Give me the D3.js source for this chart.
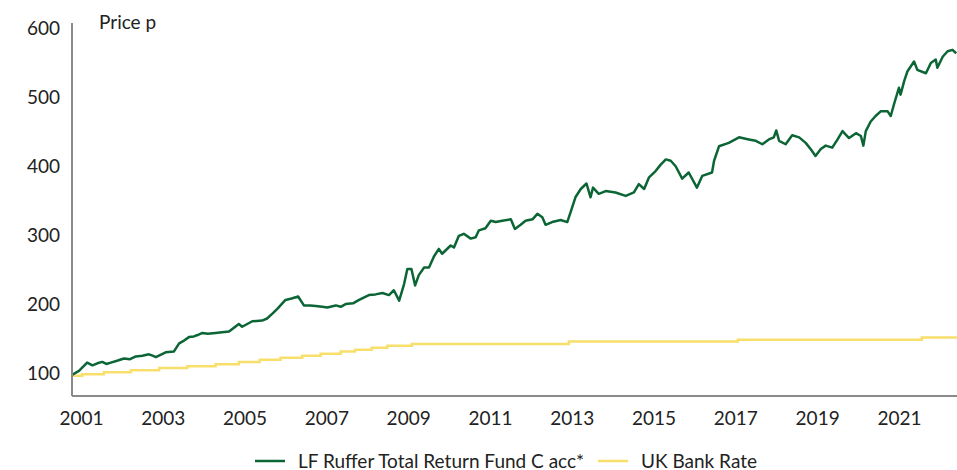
<!DOCTYPE html>
<html>
<head>
<meta charset="utf-8">
<script src="https://cdn.jsdelivr.net/npm/d3@7"></script>
<style>
  html, body { margin: 0; padding: 0; background: #fff; }
  svg { display: block; }
  text { font-family: Lato, "Noto Sans", sans-serif; fill: #222; }
</style>
</head>
<body>
<div id="chart"></div>
<script>
// LF Ruffer Total Return Fund C acc (decimal year, price p)
const fundYears = [2000.78,2000.95,2001.15,2001.28,2001.40,2001.52,2001.62,2001.73,2001.90,2002.05,2002.20,2002.34,2002.50,2002.66,2002.75,2002.83,2003.07,2003.27,2003.40,2003.52,2003.64,2003.76,2003.85,2003.97,2004.10,2004.29,2004.45,2004.62,2004.86,2004.94,2005.19,2005.43,2005.55,2005.68,2005.80,2006.00,2006.15,2006.31,2006.45,2006.60,2006.74,2006.90,2007.02,2007.23,2007.35,2007.47,2007.65,2007.80,2008.04,2008.20,2008.37,2008.53,2008.65,2008.78,2008.90,2008.98,2009.08,2009.17,2009.26,2009.39,2009.51,2009.63,2009.75,2009.83,2010.04,2010.12,2010.24,2010.36,2010.53,2010.65,2010.73,2010.89,2011.02,2011.14,2011.30,2011.51,2011.61,2011.75,2011.87,2012.04,2012.16,2012.28,2012.36,2012.52,2012.73,2012.89,2012.97,2013.09,2013.22,2013.36,2013.46,2013.52,2013.66,2013.83,2014.07,2014.32,2014.52,2014.64,2014.77,2014.89,2015.05,2015.17,2015.30,2015.42,2015.54,2015.70,2015.86,2016.06,2016.19,2016.43,2016.48,2016.60,2016.84,2017.09,2017.33,2017.50,2017.66,2017.82,2017.94,2018.00,2018.07,2018.23,2018.39,2018.56,2018.72,2018.84,2018.96,2019.09,2019.21,2019.37,2019.50,2019.62,2019.78,2019.95,2020.07,2020.13,2020.19,2020.31,2020.43,2020.56,2020.72,2020.80,2020.88,2021.00,2021.04,2021.13,2021.21,2021.37,2021.45,2021.66,2021.78,2021.90,2021.94,2022.07,2022.19,2022.31,2022.40];
const fundValues = [100,106,118,114,117,119,116,118,121,124,123,127,128,130,128,126,133,134,146,150,155,156,158,161,160,161,162,163,174,170,178,179,182,189,196,209,211,214,201,201,200,199,198,201,199,203,204,209,216,217,219,216,223,208,232,254,254,230,245,256,256,272,283,276,288,285,302,305,298,300,310,313,324,322,324,326,312,318,324,326,334,329,318,322,325,322,336,358,370,378,358,372,363,367,365,360,365,377,370,387,396,405,413,411,403,385,394,372,389,394,411,432,437,445,442,440,435,442,445,455,440,435,448,445,437,428,418,428,433,430,442,454,444,451,447,433,454,468,476,483,483,476,493,517,507,527,541,555,543,538,553,558,546,562,570,572,567];

// UK Bank Rate index (step changes)
const rateYears = [2000.75,2001.03,2001.56,2002.22,2002.91,2003.60,2004.29,2004.86,2005.37,2005.88,2006.41,2006.86,2007.35,2007.70,2008.11,2008.49,2009.09,2012.93,2017.06,2021.56,2022.42];
const rateValues = [99,101,104,107,110,112.6,115.5,119,122,125,128,131,134,136.6,139.5,142.3,145,148.6,151.2,154.3,154.3];

const yTicks = [100,200,300,400,500,600];
const xTickYears = [2001,2003,2005,2007,2009,2011,2013,2015,2017,2019,2021];
const seriesNames = ["LF Ruffer Total Return Fund C acc*","UK Bank Rate"];
const seriesColors = ["#0b6535","#f8df6c"];

const width = 957;
const height = 470;
const margin = {top : 23 , right : 0 , bottom : 74 , left : 72};
const innerWidth = width - margin.left - margin.right;
const innerHeight = height - margin.top - margin.bottom;

const xScale = d3.scaleLinear()
                    .domain([2000.78 , 2022.42])
                    .range([0 , innerWidth]);
const yScale = d3.scaleLinear()
                    .domain([69.5 , 611])
                    .range([innerHeight , 0]);

const svg = d3.select("#chart")
                .append("svg")
                    .attr("width" , width)
                    .attr("height" , height)
                    .attr("overflow" , "visible");

const group = svg.append("g")
                    .attr("transform" , `translate(${margin.left} , ${margin.top})`);

group.append("clipPath")
        .attr("id" , "clip")
    .append("rect")
        .attr("width" , innerWidth)
        .attr("height" , innerHeight);

const fund = fundYears.map((d , i) => ({x : d , y : fundValues[i]}));
const rate = rateYears.map((d , i) => ({x : d , y : rateValues[i]}));

const line = d3.line().x(d => xScale(d.x)).y(d => yScale(d.y));
const stepLine = d3.line().curve(d3.curveStepAfter).x(d => xScale(d.x)).y(d => yScale(d.y));

group.append("path")
        .datum(rate)
        .attr("clip-path" , "url(#clip)")
        .attr("fill" , "none")
        .attr("stroke" , seriesColors[1])
        .attr("stroke-width" , 2.5)
        .attr("d" , stepLine);

group.append("path")
        .datum(fund)
        .attr("clip-path" , "url(#clip)")
        .attr("fill" , "none")
        .attr("stroke" , seriesColors[0])
        .attr("stroke-width" , 2.5)
        .attr("stroke-linejoin" , "round")
        .attr("d" , line);

// axes: plain grey lines, no tick marks
const xAxis = group.append("g")
                .attr("transform" , `translate(0 , ${innerHeight})`)
                .call(d3.axisBottom(xScale).tickValues(xTickYears).tickFormat(d3.format("d")).tickSize(0).tickPadding(16));
const yAxis = group.append("g")
                .call(d3.axisLeft(yScale).tickValues(yTicks).tickSize(0).tickPadding(12));

[xAxis , yAxis].forEach(a => {
    a.attr("font-size" , 19).attr("font-family" , "Lato, 'Noto Sans', sans-serif");
    a.select(".domain").attr("stroke" , "#8a8a8a").attr("stroke-width" , 2);
    a.selectAll("text").attr("fill" , "#222");
});
yAxis.selectAll(".tick text").attr("dy" , "0.22em");
xAxis.select(".domain").attr("d" , `M0,0H${innerWidth}`);
yAxis.select(".domain").attr("d" , `M0,0V${innerHeight}`);

svg.append("text")
    .text("Price p")
    .attr("x" , 99)
    .attr("y" , 29)
    .attr("font-size" , 19);

// legend
const legend = svg.append("g").attr("transform" , "translate(0 , 461)");
const legendX = [[255 , 298] , [598 , 641]];
seriesNames.forEach((name , i) => {
    legend.append("line")
        .attr("x1" , legendX[i][0]).attr("x2" , legendX[i][0] + 30)
        .attr("stroke" , seriesColors[i])
        .attr("stroke-width" , 2.5);
    legend.append("text")
        .text(name)
        .attr("x" , legendX[i][1])
        .attr("y" , 7)
        .attr("font-size" , 19);
});
</script>
</body>
</html>
